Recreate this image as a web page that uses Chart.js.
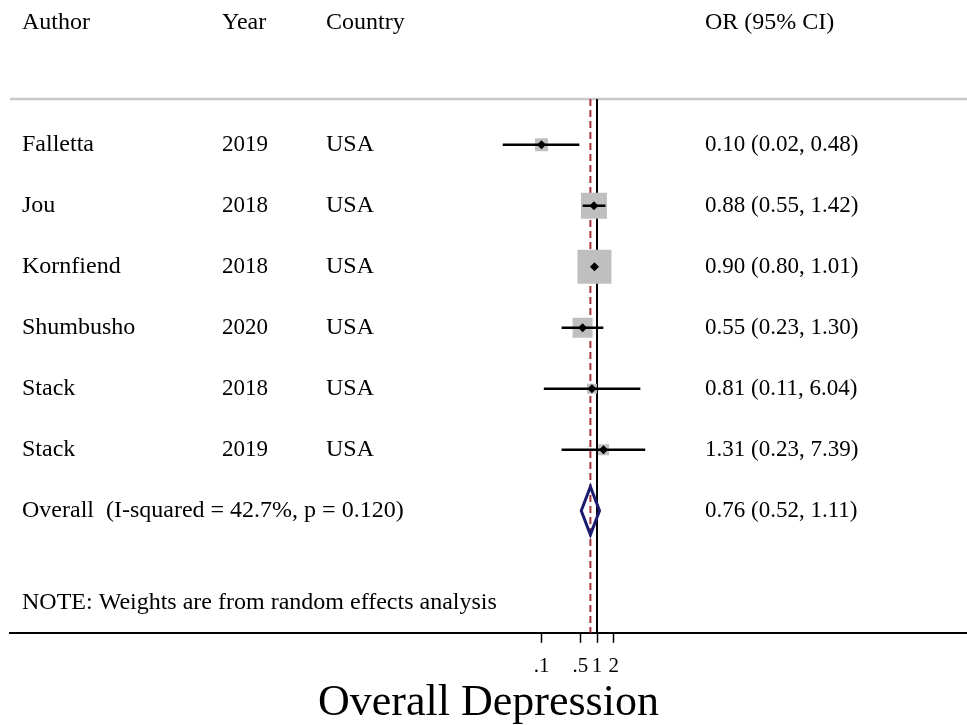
<!DOCTYPE html>
<html>
<head>
<meta charset="utf-8">
<script src="https://cdn.jsdelivr.net/npm/chart.js@4/dist/chart.umd.min.js"></script>
<style>
  body { margin: 0; background: #fff; }
  #wrap { width: 967px; height: 725px; }
</style>
</head>
<body>
<div id="wrap"><canvas id="forest"></canvas></div>
<script>
// study data
const authors = ["Falletta", "Jou", "Kornfiend", "Shumbusho", "Stack", "Stack"];
const years = ["2019", "2018", "2018", "2020", "2018", "2019"];
const countries = ["USA", "USA", "USA", "USA", "USA", "USA"];
const oddsRatios = [0.10, 0.88, 0.90, 0.55, 0.81, 1.31];
const lowerCI = [0.02, 0.55, 0.80, 0.23, 0.11, 0.23];
const upperCI = [0.48, 1.42, 1.01, 1.30, 6.04, 7.39];
const weights = [6.4, 25.8, 44.1, 15.3, 3.8, 4.6];

const overallOR = 0.76;
const overallLower = 0.52;
const overallUpper = 1.11;
const overallLabel = "Overall  (I-squared = 42.7%, p = 0.120)";
const noteText = "NOTE: Weights are from random effects analysis";

const tickValues = [0.1, 0.5, 1, 2];
const tickLabels = [".1", ".5", "1", "2"];

const FONT = '"Liberation Serif", "DejaVu Serif", serif';
const fmt = v => v.toFixed(2);

// one line dataset per confidence interval
const ciSets = oddsRatios.map((v, i) => ({
    data: [{ x: lowerCI[i], y: i }, { x: upperCI[i], y: i }],
    showLine: true,
    borderColor: "#000",
    borderWidth: 2.5,
    pointRadius: 0,
    order: 1
}));

const forestPlugin = {
    id: "forest",
    beforeDatasetsDraw(chart) {
        const { ctx, chartArea, scales } = chart;
        const x = scales.x;
        ctx.save();
        // header separator
        ctx.strokeStyle = "#c8c8c8";
        ctx.lineWidth = 2.5;
        ctx.beginPath();
        ctx.moveTo(chartArea.left, chartArea.top);
        ctx.lineTo(chartArea.right, chartArea.top);
        ctx.stroke();
        // null line
        ctx.strokeStyle = "#000";
        ctx.lineWidth = 2;
        ctx.beginPath();
        ctx.moveTo(x.getPixelForValue(1), chartArea.top);
        ctx.lineTo(x.getPixelForValue(1), chartArea.bottom);
        ctx.stroke();
        // overall estimate line
        ctx.strokeStyle = "#a3343c";
        ctx.setLineDash([7, 4]);
        ctx.beginPath();
        ctx.moveTo(x.getPixelForValue(overallOR), chartArea.top);
        ctx.lineTo(x.getPixelForValue(overallOR), chartArea.bottom);
        ctx.stroke();
        ctx.restore();
    },
    afterDatasetsDraw(chart) {
        const { ctx, scales } = chart;
        const x = scales.x, y = scales.y;
        const cy = y.getPixelForValue(authors.length);
        ctx.save();
        ctx.strokeStyle = "#1b1b6f";
        ctx.lineWidth = 3;
        ctx.beginPath();
        ctx.moveTo(x.getPixelForValue(overallLower), cy);
        ctx.lineTo(x.getPixelForValue(overallOR), cy - 24);
        ctx.lineTo(x.getPixelForValue(overallUpper), cy);
        ctx.lineTo(x.getPixelForValue(overallOR), cy + 24);
        ctx.closePath();
        ctx.stroke();
        ctx.restore();
    },
    afterDraw(chart) {
        const { ctx, scales } = chart;
        const y = scales.y;
        ctx.save();
        ctx.fillStyle = "#000";
        ctx.textBaseline = "middle";
        const words = "24px " + FONT;
        const nums = "23px " + FONT;
        const hy = y.getPixelForValue(-2.0);
        ctx.font = words;
        ctx.fillText("Author", 22, hy);
        ctx.fillText("Year", 222, hy);
        ctx.fillText("Country", 326, hy);
        ctx.fillText("OR (95% CI)", 705, hy);
        for (let i = 0; i < authors.length; i++) {
            const ry = y.getPixelForValue(i);
            ctx.font = words;
            ctx.fillText(authors[i], 22, ry);
            ctx.fillText(countries[i], 326, ry);
            ctx.font = nums;
            ctx.fillText(years[i], 222, ry);
            ctx.fillText(fmt(oddsRatios[i]) + " (" + fmt(lowerCI[i]) + ", " + fmt(upperCI[i]) + ")", 705, ry);
        }
        const oy = y.getPixelForValue(authors.length);
        ctx.font = words;
        ctx.fillText(overallLabel, 22, oy);
        ctx.fillText(noteText, 22, y.getPixelForValue(7.5));
        ctx.font = nums;
        ctx.fillText(fmt(overallOR) + " (" + fmt(overallLower) + ", " + fmt(overallUpper) + ")", 705, oy);
        ctx.restore();
    }
};

new Chart(document.getElementById("forest"), {
    type: "scatter",
    data: {
        datasets: [
            {
                // point estimates
                data: oddsRatios.map((v, i) => ({ x: v, y: i })),
                pointStyle: "rectRot",
                pointRadius: 4.5,
                backgroundColor: "#000",
                borderWidth: 0,
                order: 0
            },
            ...ciSets,
            {
                // weight boxes
                data: oddsRatios.map((v, i) => ({ x: v, y: i })),
                pointStyle: "rect",
                pointRadius: weights.map(w => 5.12 * Math.sqrt(w) / Math.SQRT2),
                backgroundColor: "#bfbfbf",
                borderWidth: 0,
                order: 2
            }
        ]
    },
    options: {
        responsive: true,
        maintainAspectRatio: false,
        animation: false,
        layout: { autoPadding: false, padding: { top: 99, left: 10, right: 0, bottom: 0 } },
        plugins: { legend: { display: false }, tooltip: { enabled: false } },
        scales: {
            x: {
                type: "logarithmic",
                min: 2.65e-11,
                max: 4.64e6,
                bounds: "data",
                afterBuildTicks(scale) {
                    scale.ticks = tickValues.map(v => ({ value: v }));
                },
                grid: {
                    drawOnChartArea: false,
                    drawTicks: true,
                    tickLength: 10,
                    tickColor: "#000",
                    tickWidth: 1.5
                },
                border: { display: true, color: "#000", width: 2 },
                ticks: {
                    autoSkip: false,
                    maxRotation: 0,
                    padding: 11,
                    color: "#000",
                    font: { family: FONT, size: 21 },
                    callback: (v) => {
                        const k = tickValues.indexOf(v);
                        return k >= 0 ? tickLabels[k] : "";
                    }
                },
                title: {
                    display: true,
                    text: "Overall Depression",
                    color: "#000",
                    font: { family: FONT, size: 44, lineHeight: 1 },
                    padding: { top: -9, bottom: 0 }
                }
            },
            y: {
                type: "linear",
                display: false,
                reverse: true,
                min: -0.75,
                max: 8
            }
        }
    },
    plugins: [forestPlugin]
});
</script>
</body>
</html>
